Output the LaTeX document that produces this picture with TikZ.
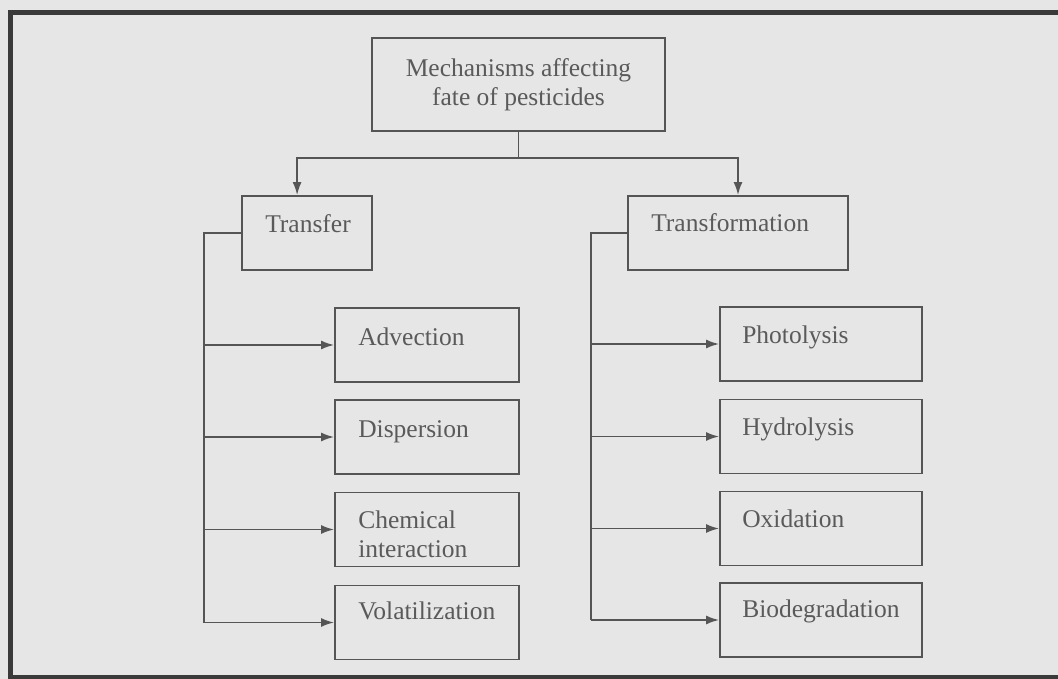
\documentclass[tikz,border=0pt]{standalone}
\usepackage{fontspec}
\setmainfont{Liberation Serif}
\usetikzlibrary{arrows.meta,calc}
\definecolor{bg}{HTML}{E6E6E6}
\definecolor{ln}{HTML}{555555}
\definecolor{tx}{HTML}{5A5A5A}
\definecolor{fr}{HTML}{3A3A3A}
\begin{document}
\begin{tikzpicture}[x=1pt,y=-1pt,
  box/.style={draw=ln, line width=1.8pt, rectangle, inner sep=0pt},
  lbl/.style={text=tx, font=\fontsize{25.5}{29}\selectfont, inner sep=0pt},
  conn/.style={draw=ln, line width=1.8pt},
  arr/.style={conn, -{Latex[length=13pt,width=9pt]}}]
\fill[bg] (0,0) rectangle (1058,679);
\useasboundingbox (0,0) rectangle (1058,679);
\draw[fr, line width=5pt] (1062,13) -- (10,13) -- (10,677) -- (1062,677);

% boxes
\node[box, minimum width=293pt, minimum height=93pt, lbl, text=tx, align=center] (top) at (518.5,84.5) {Mechanisms affecting\\fate of pesticides};
\node[box, minimum width=130pt, minimum height=74pt] (transfer) at (307,233) {};
\node[box, minimum width=220pt, minimum height=74pt] (transformation) at (738,233) {};

\node[box, minimum width=184pt, minimum height=74pt] (adv) at (427,345) {};
\node[box, minimum width=184pt, minimum height=74pt] (disp) at (427,437) {};
\node[box, minimum width=184pt, minimum height=74pt] (chem) at (427,529.5) {};
\node[box, minimum width=184pt, minimum height=74pt] (vol) at (427,622.5) {};

\node[box, minimum width=202pt, minimum height=74pt] (phot) at (821,344) {};
\node[box, minimum width=202pt, minimum height=74pt] (hydr) at (821,436.5) {};
\node[box, minimum width=202pt, minimum height=74pt] (oxid) at (821,528.5) {};
\node[box, minimum width=202pt, minimum height=74pt] (bio) at (821,620) {};

% labels
\node[lbl, anchor=base west] (transfert) at ($(transfer.west)+(24,0)$) {Transfer};
\node[lbl, anchor=base west] (transformationt) at ($(transformation.west)+(24,-1)$) {Transformation};
\node[lbl, anchor=base west] (advt) at ($(adv.west)+(24,0)$) {Advection};
\node[lbl, anchor=base west] (dispt) at ($(disp.west)+(24,0)$) {Dispersion};
\node[lbl, anchor=base west, align=left] (chemt) at ($(chem.west)+(24,27.5)$) {Chemical\\interaction};
\node[lbl, anchor=base west] (volt) at ($(vol.west)+(24,-3)$) {Volatilization};
\node[lbl, anchor=base west] (phott) at ($(phot.west)+(23,-1)$) {Photolysis};
\node[lbl, anchor=base west] (hydrt) at ($(hydr.west)+(23,-1.5)$) {Hydrolysis};
\node[lbl, anchor=base west] (oxidt) at ($(oxid.west)+(23,-1.5)$) {Oxidation};
\node[lbl, anchor=base west] (biot) at ($(bio.west)+(23,-3)$) {Biodegradation};

% connectors from top
\coordinate (j) at (top.south |- 0,158);
\draw[conn] (top.south) -- (j);
\draw[arr] (j) -| ($(transfer.north west)+(56,0)$);
\draw[arr] (j) -| (transformation.north);

% transfer trunk
\coordinate (lt) at ($(transfer.west)+(-37,0)$);
\draw[conn] (transfer.west) -- (lt) -- (lt |- vol.west);
\draw[arr] (lt |- adv.west) -- (adv.west);
\draw[arr] (lt |- disp.west) -- (disp.west);
\draw[arr] (lt |- chem.west) -- (chem.west);
\draw[arr] (lt |- vol.west) -- (vol.west);

% transformation trunk
\coordinate (rt) at ($(transformation.west)+(-36,0)$);
\draw[conn] (transformation.west) -- (rt) -- (rt |- bio.west);
\draw[arr] (rt |- phot.west) -- (phot.west);
\draw[arr] (rt |- hydr.west) -- (hydr.west);
\draw[arr] (rt |- oxid.west) -- (oxid.west);
\draw[arr] (rt |- bio.west) -- (bio.west);
\end{tikzpicture}
\end{document}
